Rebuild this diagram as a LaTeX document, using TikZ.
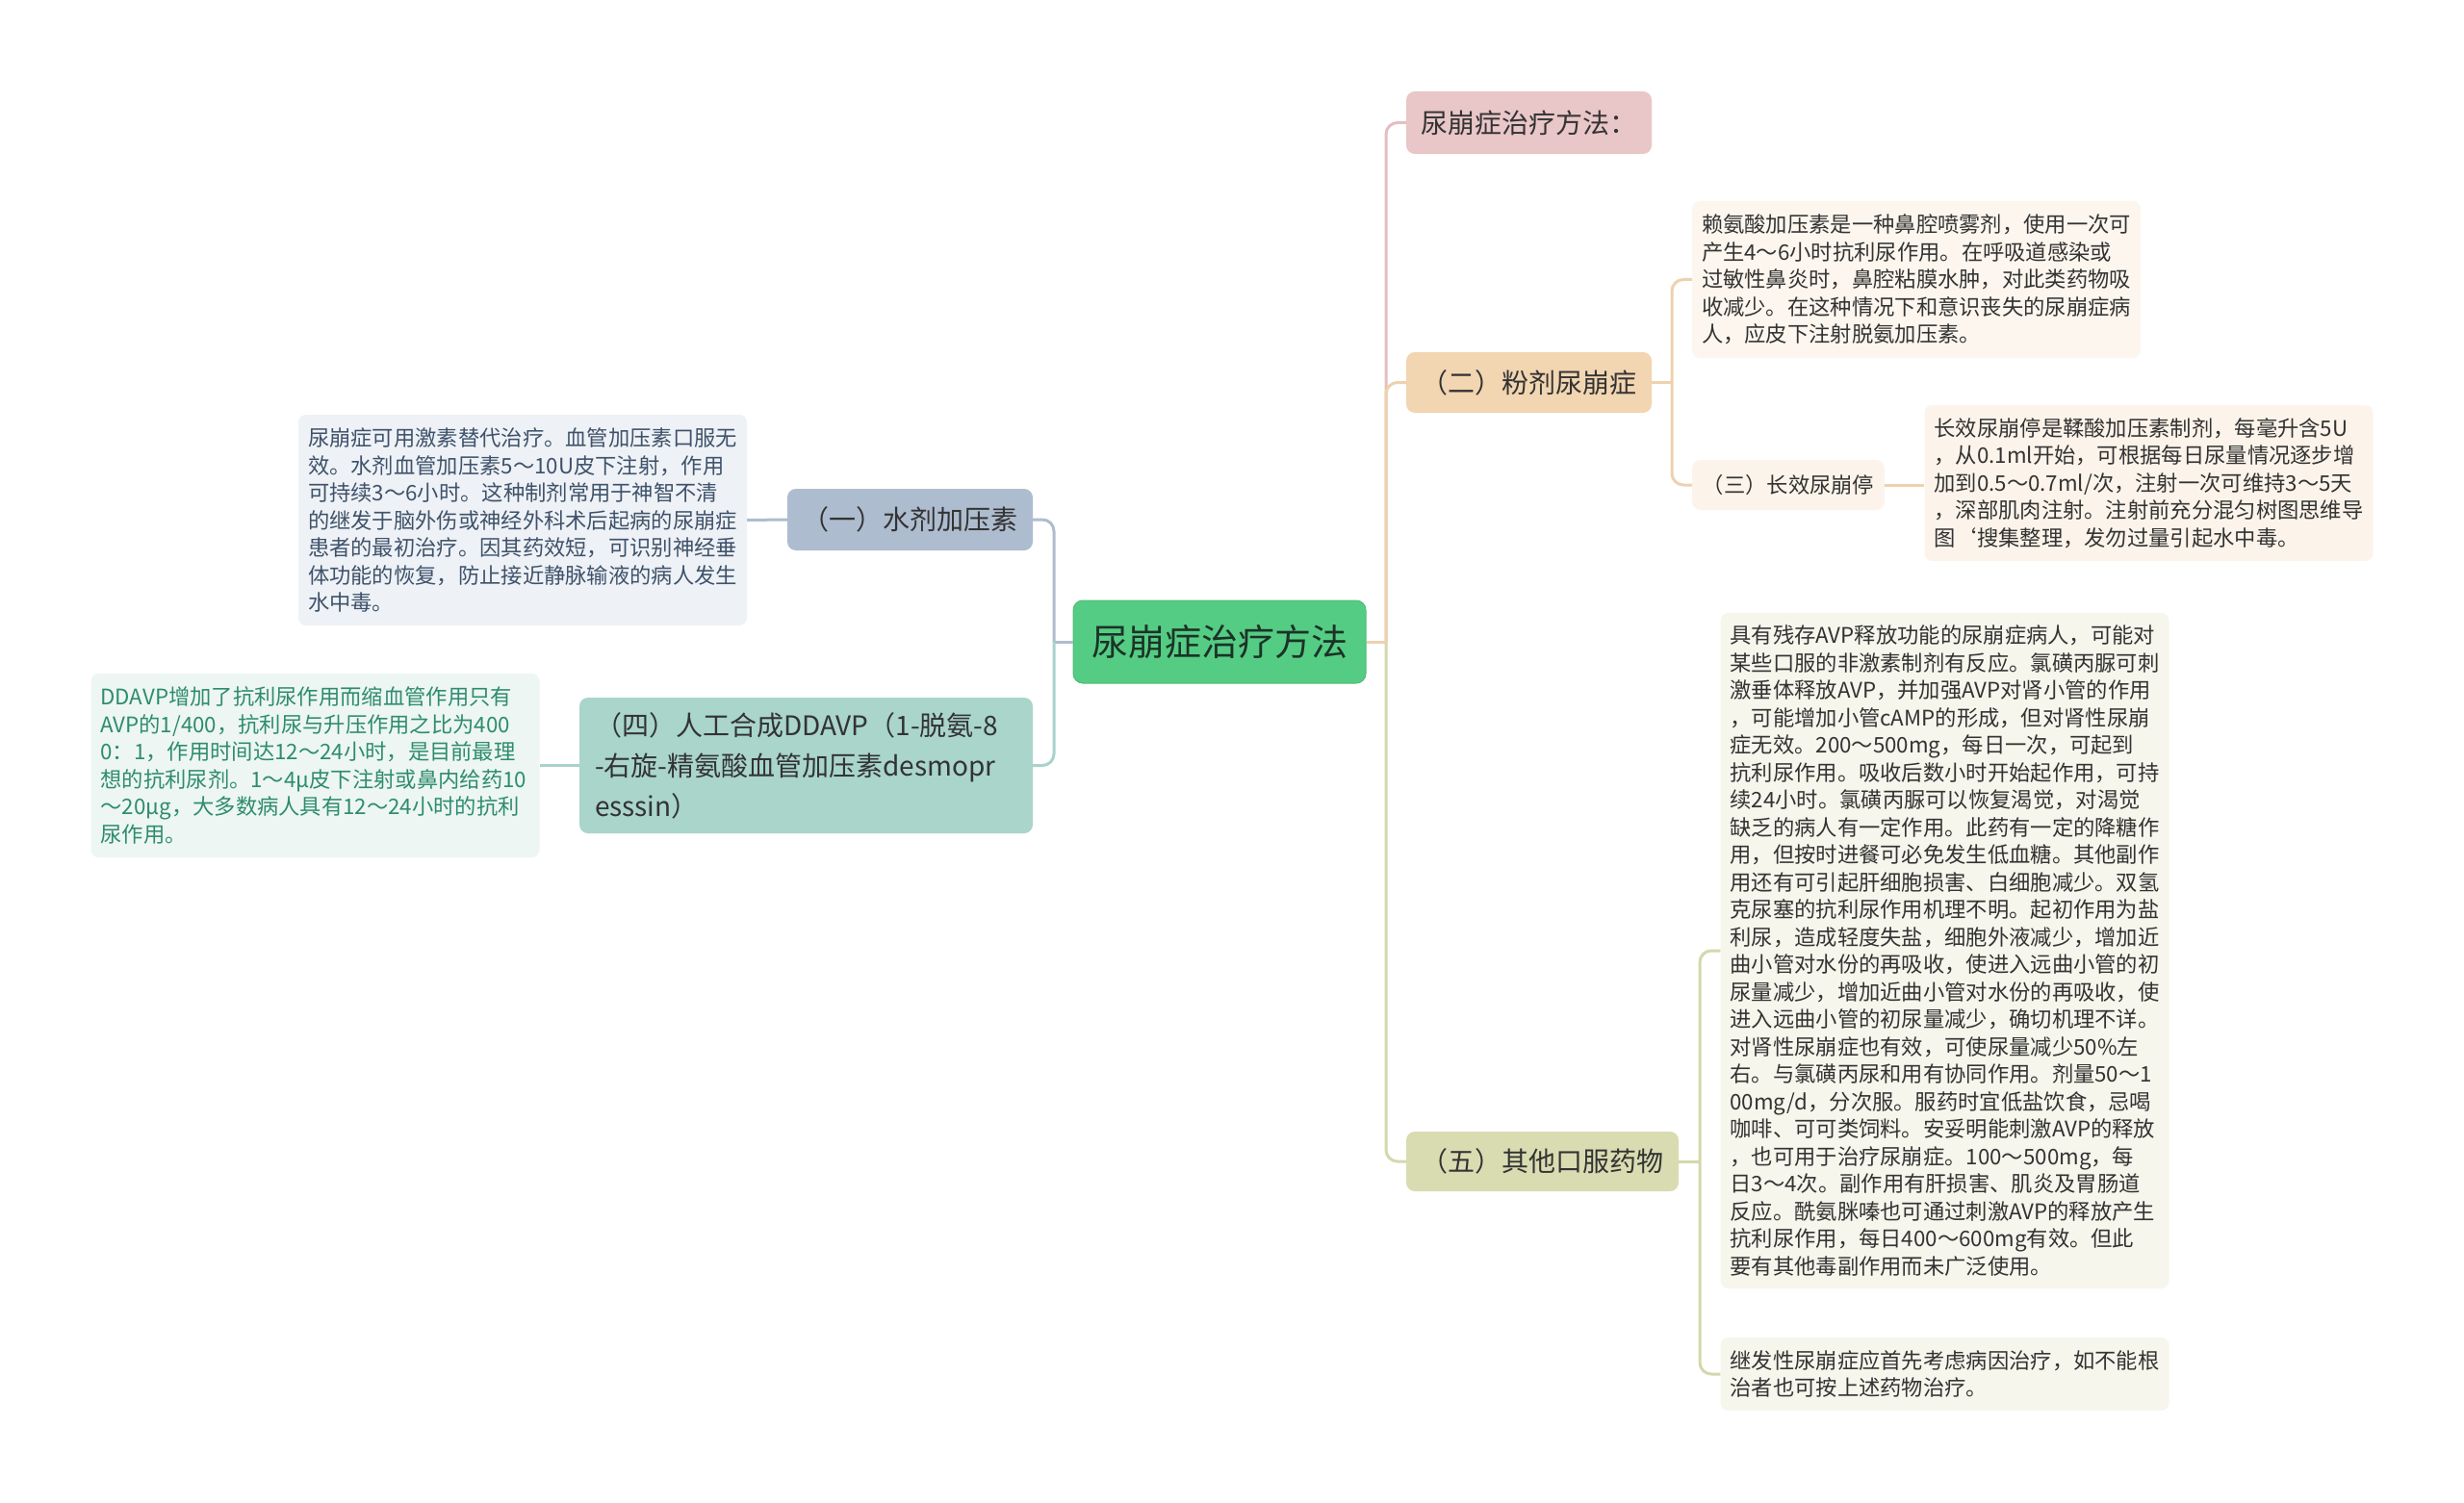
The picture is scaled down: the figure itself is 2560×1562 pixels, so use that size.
\documentclass[tikz,border=0pt]{standalone}
\usepackage{fontspec}
\setmainfont{Noto Sans CJK SC}
\definecolor{cmain}{HTML}{55CC84}
\definecolor{cmaintext}{HTML}{1B3326}
\definecolor{ctext}{HTML}{333333}
\definecolor{cAf}{HTML}{E9C6C7}
\definecolor{cAl}{HTML}{E3BFC1}
\definecolor{cBf}{HTML}{F2D5B1}
\definecolor{cBl}{HTML}{EED2AE}
\definecolor{cCf}{HTML}{D9DCB1}
\definecolor{cCl}{HTML}{D5D8AB}
\definecolor{cOnef}{HTML}{AEBCCF}
\definecolor{cOnel}{HTML}{AFBCCE}
\definecolor{cFourf}{HTML}{A9D5CB}
\definecolor{cFourl}{HTML}{A8D3CA}
\definecolor{nOnef}{HTML}{EEF2F6}
\definecolor{nOnet}{HTML}{3F526B}
\definecolor{nFourf}{HTML}{EDF6F3}
\definecolor{nFourt}{HTML}{2E8C6E}
\definecolor{nBf}{HTML}{FCF6EE}
\definecolor{nThreef}{HTML}{FCF4EA}
\definecolor{nCf}{HTML}{F6F6EC}
\tikzset{
  mainnode/.style={rounded corners=10pt, fill=cmain, draw=cmain!92!black, line width=1pt,
    font=\fontsize{38}{44}\selectfont, text=cmaintext, minimum width=304pt, minimum height=86pt, inner sep=0pt},
  topic/.style={rounded corners=9pt, font=\fontsize{28}{42}\selectfont, text=ctext, inner sep=0pt},
  note/.style={rounded corners=8pt, font=\fontsize{22.3}{28.5}\selectfont, align=left,
    inner xsep=10pt, inner ysep=0pt, text width=446pt, text=ctext},
  conn/.style={line width=3pt, rounded corners=12pt},
}
\begin{document}
\begin{tikzpicture}[x=1pt,y=-1pt]
\useasboundingbox (0,0) rectangle (2560,1562);
\fill[white] (0,0) rectangle (2560,1562);

% central
\node[mainnode] (center) at (1267,667) {尿崩症治疗方法};

% right topics
\node[topic, fill=cAf, minimum width=255pt, minimum height=65pt] (A) at (1588.5,127.5) {尿崩症治疗方法：};
\node[topic, fill=cBf, minimum width=255pt, minimum height=63pt] (B) at (1588.5,397.5) {（二）粉剂尿崩症};
\node[topic, fill=cCf, minimum width=283pt, minimum height=62pt] (C) at (1602.5,1207) {（五）其他口服药物};

% left topics
\node[topic, fill=cOnef, minimum width=255pt, minimum height=64pt] (S1) at (945.5,540) {（一）水剂加压素};
\node[topic, fill=cFourf, minimum width=471pt, minimum height=141pt, text width=439pt, align=left, inner xsep=16pt] (S4) at (837.5,795.5)
  {（四）人工合成DDAVP（1-脱氨-8\\-右旋-精氨酸血管加压素desmopr\\esssin）};

% notes left
\node[note, fill=nOnef, text=nOnet, minimum height=219pt] (N1) at (543,540.5)
  {尿崩症可用激素替代治疗。血管加压素口服无\\效。水剂血管加压素5～10U皮下注射，作用\\可持续3～6小时。这种制剂常用于神智不清\\的继发于脑外伤或神经外科术后起病的尿崩症\\患者的最初治疗。因其药效短，可识别神经垂\\体功能的恢复，防止接近静脉输液的病人发生\\水中毒。};
\node[note, fill=nFourf, text=nFourt, minimum height=191pt] (N4) at (327.5,795.5)
  {DDAVP增加了抗利尿作用而缩血管作用只有\\AVP的1/400，抗利尿与升压作用之比为400\\0：1，作用时间达12～24小时，是目前最理\\想的抗利尿剂。1～4μ皮下注射或鼻内给药10\\～20μg，大多数病人具有12～24小时的抗利\\尿作用。};

% notes right
\node[note, fill=nBf, minimum height=163pt] (N2) at (1991,290.5)
  {赖氨酸加压素是一种鼻腔喷雾剂，使用一次可\\产生4～6小时抗利尿作用。在呼吸道感染或\\过敏性鼻炎时，鼻腔粘膜水肿，对此类药物吸\\收减少。在这种情况下和意识丧失的尿崩症病\\人，应皮下注射脱氨加压素。};
\node[topic, fill=nThreef, minimum width=200pt, minimum height=52pt, font=\fontsize{22.3}{28}\selectfont] (S3) at (1858,504) {（三）长效尿崩停};
\node[note, fill=nThreef, minimum height=162pt] (N3) at (2232.5,502)
  {长效尿崩停是鞣酸加压素制剂，每毫升含5U\\，从0.1ml开始，可根据每日尿量情况逐步增\\加到0.5～0.7ml/次，注射一次可维持3～5天\\，深部肌肉注射。注射前充分混匀树图思维导\\图`搜集整理，发勿过量引起水中毒。};
\node[note, fill=nCf, minimum height=702pt] (N5) at (2020.5,988)
  {具有残存AVP释放功能的尿崩症病人，可能对\\某些口服的非激素制剂有反应。氯磺丙脲可刺\\激垂体释放AVP，并加强AVP对肾小管的作用\\，可能增加小管cAMP的形成，但对肾性尿崩\\症无效。200～500mg，每日一次，可起到\\抗利尿作用。吸收后数小时开始起作用，可持\\续24小时。氯磺丙脲可以恢复渴觉，对渴觉\\缺乏的病人有一定作用。此药有一定的降糖作\\用，但按时进餐可必免发生低血糖。其他副作\\用还有可引起肝细胞损害、白细胞减少。双氢\\克尿塞的抗利尿作用机理不明。起初作用为盐\\利尿，造成轻度失盐，细胞外液减少，增加近\\曲小管对水份的再吸收，使进入远曲小管的初\\尿量减少，增加近曲小管对水份的再吸收，使\\进入远曲小管的初尿量减少，确切机理不详。\\对肾性尿崩症也有效，可使尿量减少50\%左\\右。与氯磺丙尿和用有协同作用。剂量50～1\\00mg/d，分次服。服药时宜低盐饮食，忌喝\\咖啡、可可类饲料。安妥明能刺激AVP的释放\\，也可用于治疗尿崩症。100～500mg，每\\日3～4次。副作用有肝损害、肌炎及胃肠道\\反应。酰氨脒嗪也可通过刺激AVP的释放产生\\抗利尿作用，每日400～600mg有效。但此\\要有其他毒副作用而未广泛使用。};
\node[note, fill=nCf, minimum height=76pt] (N6) at (2020.5,1428)
  {继发性尿崩症应首先考虑病因治疗，如不能根\\治者也可按上述药物治疗。};

% junctions
\coordinate (rj) at (1440,667);
\coordinate (lj) at (1095,667);
\coordinate (bj) at (1737,397.5);
\coordinate (cj) at (1766,1207);

% connectors right
\draw[conn, cAl] (rj) |- (A.west);
\draw[conn, cBl] (center.east) -- (rj);
\draw[conn, cBl] (rj) |- (B.west);
\draw[conn, cCl] (rj) |- (C.west);
\draw[conn, cBl] (B.east) -- (bj);
\draw[conn, cBl] (bj) |- (N2.west);
\draw[conn, cBl] (bj) |- (S3.west);
\draw[conn, cBl] (S3.east) -- (S3.east -| N3.west);
\draw[conn, cCl] (C.east) -- (cj);
\draw[conn, cCl] (cj) |- (N5.west);
\draw[conn, cCl] (cj) |- (N6.west);

% connectors left
\draw[conn, cOnel] (center.west) -- (lj);
\draw[conn, cOnel] (lj) |- (S1.east);
\draw[conn, cFourl] (lj) |- (S4.east);
\draw[conn, cOnel] (S1.west) -- (N1.east);
\draw[conn, cFourl] (S4.west) -- (N4.east);
\end{tikzpicture}
\end{document}
